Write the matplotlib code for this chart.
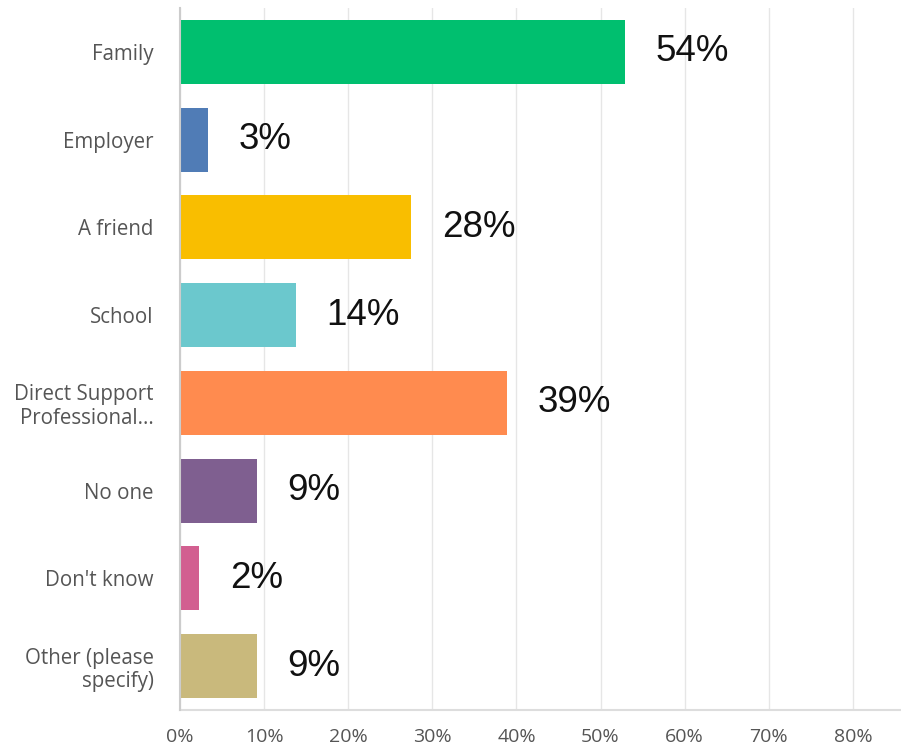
import matplotlib
matplotlib.use("Agg")
import matplotlib.pyplot as plt

categories = ["Family", "Employer", "A friend", "School", "Direct Support\nProfessional...",
              "No one", "Don't know", "Other (please\nspecify)"]
values = [52.9, 3.3, 27.5, 13.8, 38.9, 9.1, 2.3, 9.1]
value_labels = ["54%", "3%", "28%", "14%", "39%", "9%", "2%", "9%"]
colors = ["#00BF6F", "#507CB6", "#F9BE00", "#6BC8CD", "#FF8B4F", "#7F5F90", "#D25F90", "#C9B97C"]
xticks = [0, 10, 20, 30, 40, 50, 60, 70, 80]
xtick_labels = ["0%", "10%", "20%", "30%", "40%", "50%", "60%", "70%", "80%"]

fig = plt.figure(figsize=(9.01, 7.53), dpi=100)
ax = fig.add_axes([180/901, 43/753, 720/901, 702/753])

y = list(range(len(categories)))
ax.barh(y, values, height=0.73, color=colors, zorder=3)
for yi, v, lab in zip(y, values, value_labels):
    ax.annotate(lab, (v, yi), xytext=(22, 0), textcoords="offset points",
                va="center", ha="left", fontsize=26.5, family="Liberation Sans", color="#111111")

ax.set_ylim(len(categories) - 0.5, -0.5)
ax.set_xlim(0, 85.6)
ax.set_xticks(xticks)
ax.set_xticklabels(xtick_labels, fontsize=14, family="Open Sans", color="#555555")
ax.set_yticks(y)
ax.set_yticklabels(categories, fontsize=14.8, family="Open Sans", color="#555555", linespacing=1.15)
ax.tick_params(axis="both", length=0)
ax.tick_params(axis="x", pad=13)
ax.tick_params(axis="y", pad=19)
ax.grid(axis="x", color="#e6e6e6", linewidth=1, zorder=0)
for s in ["top", "right"]:
    ax.spines[s].set_visible(False)
ax.spines["left"].set_color("#cccccc")
ax.spines["left"].set_linewidth(1.5)
ax.spines["bottom"].set_color("#dddddd")
ax.spines["bottom"].set_linewidth(1.5)
ax.spines["left"].set_zorder(4)

fig.savefig("out.png", dpi=100)
